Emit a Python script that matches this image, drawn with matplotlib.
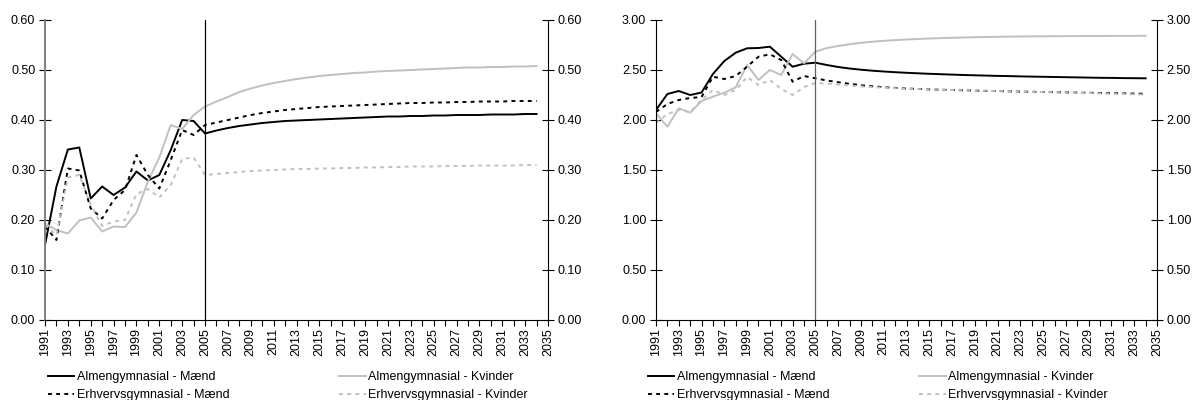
import matplotlib
matplotlib.use('Agg')
import matplotlib.pyplot as plt

plt.rcParams['font.family'] = ['Liberation Sans', 'DejaVu Sans']
plt.rcParams['font.size'] = 9

# år 1991-2034 (akse til 2035)
years = list(range(1991, 2035))

# venstre figur
almen_m_1 = [0.150, 0.267, 0.341, 0.345, 0.243, 0.267, 0.250, 0.265, 0.297, 0.279, 0.290, 0.340, 0.400, 0.398, 0.373,
             0.379, 0.384, 0.388, 0.391, 0.394, 0.396, 0.398, 0.399, 0.400, 0.401, 0.402, 0.403, 0.404, 0.405, 0.406,
             0.407, 0.407, 0.408, 0.408, 0.409, 0.409, 0.410, 0.410, 0.410, 0.411, 0.411, 0.411, 0.412, 0.412]
almen_k_1 = [0.193, 0.180, 0.173, 0.199, 0.205, 0.177, 0.187, 0.186, 0.215, 0.277, 0.325, 0.390, 0.382, 0.410, 0.427,
             0.437, 0.446, 0.456, 0.463, 0.469, 0.474, 0.478, 0.482, 0.485, 0.488, 0.490, 0.492, 0.494, 0.495, 0.497,
             0.498, 0.499, 0.500, 0.501, 0.502, 0.503, 0.504, 0.505, 0.505, 0.506, 0.506, 0.507, 0.507, 0.508]
erhverv_m_1 = [0.187, 0.160, 0.303, 0.299, 0.223, 0.203, 0.240, 0.260, 0.330, 0.290, 0.263, 0.320, 0.380, 0.370, 0.390,
               0.395, 0.400, 0.405, 0.410, 0.414, 0.417, 0.420, 0.422, 0.424, 0.426, 0.427, 0.428, 0.429, 0.430, 0.431,
               0.432, 0.433, 0.434, 0.434, 0.435, 0.435, 0.436, 0.436, 0.437, 0.437, 0.437, 0.438, 0.438, 0.438]
erhverv_k_1 = [0.190, 0.170, 0.285, 0.290, 0.230, 0.188, 0.197, 0.200, 0.252, 0.262, 0.245, 0.270, 0.322, 0.325, 0.290,
               0.292, 0.294, 0.296, 0.298, 0.299, 0.300, 0.301, 0.302, 0.302, 0.303, 0.303, 0.304, 0.304, 0.305, 0.305,
               0.306, 0.306, 0.307, 0.307, 0.307, 0.308, 0.308, 0.308, 0.309, 0.309, 0.309, 0.309, 0.310, 0.310]

# højre figur
almen_m_2 = [2.100, 2.260, 2.290, 2.250, 2.275, 2.460, 2.590, 2.673, 2.717, 2.720, 2.733, 2.633, 2.533, 2.563, 2.573,
             2.550, 2.530, 2.515, 2.503, 2.493, 2.485, 2.478, 2.472, 2.467, 2.462, 2.458, 2.454, 2.450, 2.447, 2.444,
             2.441, 2.439, 2.436, 2.434, 2.432, 2.430, 2.428, 2.426, 2.424, 2.422, 2.421, 2.419, 2.418, 2.417]
almen_k_2 = [2.067, 1.933, 2.117, 2.073, 2.190, 2.233, 2.273, 2.327, 2.550, 2.400, 2.500, 2.450, 2.660, 2.567, 2.683,
             2.720, 2.740, 2.758, 2.772, 2.783, 2.792, 2.799, 2.805, 2.810, 2.815, 2.819, 2.822, 2.825, 2.828, 2.830,
             2.832, 2.834, 2.835, 2.836, 2.837, 2.838, 2.839, 2.839, 2.840, 2.840, 2.841, 2.841, 2.841, 2.842]
erhverv_m_2 = [2.080, 2.160, 2.200, 2.220, 2.230, 2.433, 2.410, 2.440, 2.533, 2.633, 2.657, 2.600, 2.383, 2.440, 2.417,
               2.395, 2.378, 2.362, 2.348, 2.337, 2.328, 2.321, 2.315, 2.310, 2.306, 2.303, 2.300, 2.297, 2.294, 2.291,
               2.289, 2.287, 2.284, 2.282, 2.280, 2.278, 2.276, 2.274, 2.272, 2.270, 2.268, 2.266, 2.264, 2.262]
erhverv_k_2 = [1.970, 2.060, 2.100, 2.080, 2.200, 2.300, 2.250, 2.300, 2.430, 2.350, 2.400, 2.310, 2.250, 2.330, 2.370,
               2.364, 2.355, 2.345, 2.336, 2.329, 2.323, 2.318, 2.313, 2.309, 2.306, 2.303, 2.300, 2.297, 2.294, 2.292,
               2.289, 2.287, 2.284, 2.282, 2.279, 2.277, 2.274, 2.272, 2.269, 2.266, 2.263, 2.260, 2.257, 2.254]

labels = ['Almengymnasial - Mænd', 'Almengymnasial - Kvinder',
          'Erhvervsgymnasial - Mænd', 'Erhvervsgymnasial - Kvinder']

grey = '#c0c0c0'

fig = plt.figure(figsize=(11.97, 4.0), dpi=100)
ax1 = fig.add_axes([45 / 1197, 0.2, 503 / 1197, 0.75])
ax2 = fig.add_axes([656 / 1197, 0.2, 501 / 1197, 0.75])


def draw_panel(ax, series, ymax, step, vline_color, left_color, leg_x, colspace):
    a_m, a_k, e_m, e_k = series
    h1, = ax.plot(years, a_m, color='black', lw=1.4)
    h2, = ax.plot(years, a_k, color=grey, lw=1.4)
    h3, = ax.plot(years, e_m, color='black', lw=1.4, dashes=(2, 2.2))
    h4, = ax.plot(years, e_k, color=grey, lw=1.4, dashes=(2, 2.2))
    ax.axvline(2005, color=vline_color, lw=0.9)

    ax.set_xlim(1991, 2035)
    ax.set_ylim(0, ymax)
    yt = [i * step for i in range(int(round(ymax / step)) + 1)]
    ax.set_yticks(yt)
    ax.set_yticklabels([f'{v:.2f}' for v in yt])
    ax.set_xticks(range(1991, 2036, 2))
    ax.set_xticks(range(1991, 2036), minor=True)
    ax.set_xticklabels([str(y) for y in range(1991, 2036, 2)], rotation=90)

    ax.tick_params(axis='y', direction='inout', length=8, width=0.8,
                   left=True, right=True, labelleft=True, labelright=True, pad=3)
    ax.tick_params(axis='x', which='both', direction='out', length=4, width=0.8, pad=2)

    ax.spines['top'].set_visible(False)
    for s in ['bottom', 'right']:
        ax.spines[s].set_linewidth(0.8)
    ax.spines['left'].set_color(left_color)
    ax.spines['left'].set_linewidth(1.4 if left_color != 'black' else 0.8)

    ax.legend([h1, h3, h2, h4], [labels[0], labels[2], labels[1], labels[3]],
              ncol=2, frameon=False, loc='upper left',
              bbox_to_anchor=(leg_x / 1197, 1 - 371 / 400), bbox_transform=fig.transFigure,
              borderpad=0, borderaxespad=0, handlelength=2.1, handletextpad=0.2,
              columnspacing=colspace, labelspacing=0.5, fontsize=9)


draw_panel(ax1, [almen_m_1, almen_k_1, erhverv_m_1, erhverv_k_1], 0.6, 0.1,
           'black', '#808080', 48, 8.8)
draw_panel(ax2, [almen_m_2, almen_k_2, erhverv_m_2, erhverv_k_2], 3.0, 0.5,
           '#606060', 'black', 648, 7.2)

fig.savefig('out.png', dpi=100)
